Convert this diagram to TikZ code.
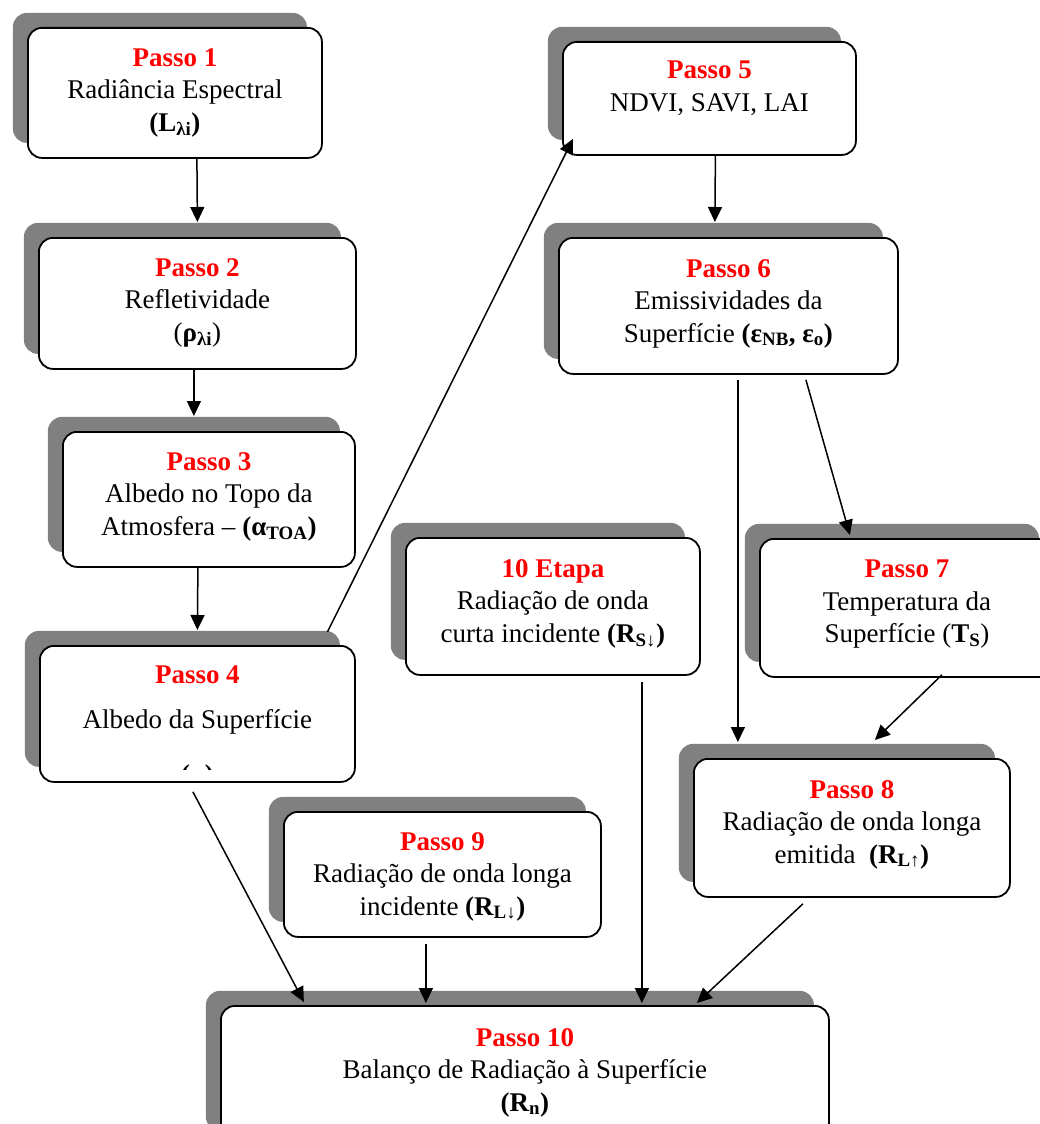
\documentclass[tikz,border=0pt]{standalone}
\usepackage{fontspec}
\setmainfont{Liberation Serif}
\usetikzlibrary{arrows.meta,shadows}
\definecolor{stepred}{RGB}{255,0,0}
\definecolor{shade}{RGB}{128,128,128}
\newcommand{\ttl}[1]{\textcolor{stepred}{\textbf{#1}}}
\tikzset{
  stepbox/.style={draw=black, line width=1.8pt, fill=white, rounded corners=14pt,
    anchor=north west, inner sep=0pt,
    drop shadow={shadow xshift=-15pt, shadow yshift=15pt, opacity=1, fill=shade}},
  txt/.style={font=\fontsize{27}{32.5}\selectfont, align=center, inner sep=0pt, anchor=north},
  arr/.style={line width=1.5pt, -{Triangle[length=15pt,width=14pt]}}
}
\begin{document}
\begin{tikzpicture}[x=1pt,y=-1pt]
\useasboundingbox (0,0) rectangle (1040,1124);

% boxes (front faces), each with its shadow
\node[stepbox, minimum width=294pt, minimum height=130pt] (b1) at (27,27) {};
\node[stepbox, minimum width=317pt, minimum height=131pt] (b2) at (38,237) {};
\node[stepbox, minimum width=292pt, minimum height=135pt] (b3) at (62,431) {};
\node[stepbox, minimum width=315pt, minimum height=136pt] (b4) at (39,645) {};
\node[stepbox, minimum width=293pt, minimum height=113pt] (b5) at (562,41) {};
\node[stepbox, minimum width=339pt, minimum height=136pt] (b6) at (558,237) {};
\node[stepbox, minimum width=294pt, minimum height=138pt] (b7) at (759,538) {};
\node[stepbox, minimum width=316pt, minimum height=138pt] (b8) at (693,758) {};
\node[stepbox, minimum width=317pt, minimum height=125pt] (b9) at (283,811) {};
\node[stepbox, minimum width=294pt, minimum height=137pt] (b10) at (405,537) {};
\node[stepbox, minimum width=608pt, minimum height=140pt] (b11) at (220,1005) {};

% texts
\node[txt] (t1) at ([yshift=-21pt]b1.north) {\ttl{Passo 1}\\Radiância Espectral\\\textbf{(L\textsubscript{λi})}};
\node[txt] (t2) at ([yshift=-21pt]b2.north) {\ttl{Passo 2}\\Refletividade\\(\textbf{ρ\textsubscript{λi}})};
\node[txt] (t3) at ([yshift=-21pt]b3.north) {\ttl{Passo 3}\\Albedo no Topo da\\Atmosfera – \textbf{(α\textsubscript{TOA})}};
\node[txt] (t4) at ([yshift=-21pt]b4.north) {\ttl{Passo 4}\\[12.5pt]Albedo da Superfície};
\begin{scope}
  \clip (b4.north west) rectangle ([yshift=13pt]b4.south east);
  \node[txt, anchor=base] (t4b) at ([yshift=-1pt]b4.south) {\textbf{(α)}};
\end{scope}
\node[txt] (t5) at ([yshift=-20pt]b5.north) {\ttl{Passo 5}\\NDVI, SAVI, LAI};
\node[txt] (t6) at ([yshift=-22pt]b6.north) {\ttl{Passo 6}\\Emissividades da\\Superfície \textbf{(ε\textsubscript{NB}, ε\textsubscript{o})}};
\node[txt] (t7) at ([yshift=-22pt]b7.north) {\ttl{Passo 7}\\Temperatura da\\Superfície (\textbf{T\textsubscript{S}})};
\node[txt] (t8) at ([yshift=-22pt]b8.north) {\ttl{Passo 8}\\Radiação de onda longa\\emitida\ \ \textbf{(R\textsubscript{L↑})}};
\node[txt] (t9) at ([yshift=-21pt]b9.north) {\ttl{Passo 9}\\Radiação de onda longa\\incidente \textbf{(R\textsubscript{L↓})}};
\node[txt] (t10) at ([yshift=-22pt]b10.north) {\ttl{10 Etapa}\\Radiação de onda\\curta incidente \textbf{(R\textsubscript{S↓})}};
\node[txt] (t11) at ([yshift=-23pt]b11.north) {\ttl{Passo 10}\\Balanço de Radiação à Superfície\\\textbf{(R\textsubscript{n})}};

% connectors
\draw[arr] ([xshift=22pt]b1.south) -- ([yshift=15pt]b2.north);
\draw[arr] ([xshift=-3.5pt]b2.south) -- ([xshift=-15pt,yshift=15pt]b3.north);
\draw[arr] ([xshift=-11pt]b3.south) -- ([yshift=15pt]b4.north);
\draw[arr] ([xshift=130pt,yshift=13pt]b4.north) -- ([xshift=11pt,yshift=17pt]b5.south west);
\draw[arr] ([xshift=6pt]b5.south) -- ([xshift=-13.5pt,yshift=15pt]b6.north);
\draw[arr] ([xshift=9.5pt,yshift=-5pt]b6.south) -- ([xshift=-114pt,yshift=16pt]b8.north);
\draw[arr] ([xshift=77.5pt,yshift=-5pt]b6.south) -- ([xshift=-57pt,yshift=3pt]b7.north);
\draw[arr] ([xshift=35pt,yshift=3pt]b7.south) -- ([xshift=23pt,yshift=18pt]b8.north);
\draw[arr] ([xshift=-49pt,yshift=-6pt]b8.south) -- ([xshift=172pt,yshift=2pt]b11.north);
\draw[arr] ([xshift=-16.5pt,yshift=-6pt]b9.south) -- ([xshift=-99pt,yshift=2pt]b11.north);
\draw[arr] ([xshift=89pt,yshift=-6pt]b10.south) -- ([xshift=117pt,yshift=2pt]b11.north);
\draw[arr] ([xshift=-4.5pt,yshift=-9pt]b4.south) -- ([xshift=-221pt,yshift=3pt]b11.north);
\end{tikzpicture}
\end{document}
